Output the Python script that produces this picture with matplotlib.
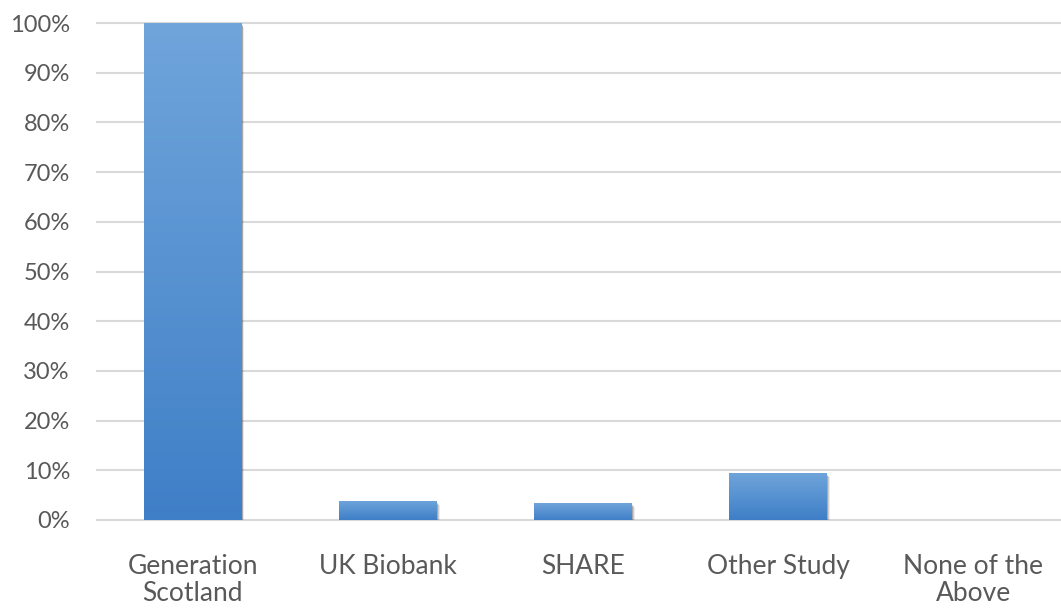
import matplotlib
matplotlib.use("Agg")
import matplotlib.pyplot as plt
import matplotlib.transforms as mtransforms
from matplotlib.patches import Rectangle
import numpy as np

categories = ["Generation\nScotland", "UK Biobank", "SHARE", "Other Study", "None of the\nAbove"]
values = [100.0, 3.9, 3.4, 9.5, 0.0]
yticks = [0, 10, 20, 30, 40, 50, 60, 70, 80, 90, 100]
ytick_labels = [f"{v}%" for v in yticks]

plt.rcParams['font.family'] = ['Lato', 'DejaVu Sans']

fig = plt.figure(figsize=(10.61, 6.10), dpi=100)
ax = fig.add_axes([97/1061, (610-520)/610, 1 - 97/1061, (520-23)/610])

text_color = "#595959"
grid_color = "#d9d9d9"
bar_w = 0.5

ax.set_xlim(-0.49, 4.45)
ax.set_ylim(0, 100)

for y in yticks:
    ax.axhline(y, color=grid_color, lw=1.5, zorder=0, clip_on=False)

top_c = np.array([0x70, 0xA5, 0xDB]) / 255
bot_c = np.array([0x3F, 0x7F, 0xC7]) / 255
grad = np.linspace(0, 1, 256)[:, None]
img = top_c[None, None, :] * (1 - grad[:, :, None]) + bot_c[None, None, :] * grad[:, :, None]

for i, v in enumerate(values):
    x0 = i - bar_w / 2
    # shadow (soft, offset down/right)
    for k, (dx, dy, a) in enumerate([(3, -4, 0.08), (2, -3, 0.12), (1.5, -2, 0.18)]):
        off = mtransforms.ScaledTranslation(dx / 100, dy / 100, fig.dpi_scale_trans)
        sh = Rectangle((x0, 0), bar_w, v, transform=ax.transData + off,
                       facecolor="black", edgecolor="none", alpha=a, zorder=1)
        ax.add_patch(sh)
    if v > 0:
        rect = Rectangle((x0, 0), bar_w, v, facecolor="none", edgecolor="none", zorder=2)
        ax.add_patch(rect)
        im = ax.imshow(img, extent=[x0, x0 + bar_w, 0, v], aspect="auto", zorder=2,
                       interpolation="bilinear")
        im.set_clip_path(rect)

ax.set_xticks(range(len(categories)))
ax.set_xticklabels(categories, fontsize=19, color=text_color, linespacing=1.12)
ax.set_yticks(yticks)
ax.set_yticklabels(ytick_labels, fontsize=17, color=text_color)
ax.tick_params(axis="both", length=0)
ax.tick_params(axis="y", pad=19.5)
ax.tick_params(axis="x", pad=24.5)
for s in ax.spines.values():
    s.set_visible(False)

fig.savefig("out.png", dpi=100)
